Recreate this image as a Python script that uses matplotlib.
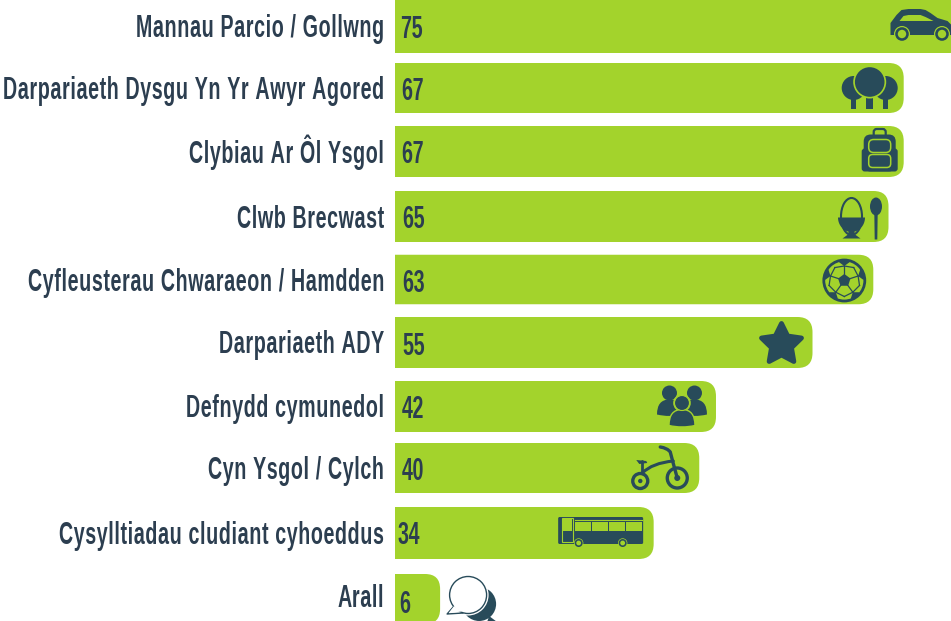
import matplotlib
matplotlib.use("Agg")
import matplotlib.pyplot as plt
import numpy as np
from matplotlib.path import Path
from matplotlib.patches import PathPatch, Circle, Ellipse, Rectangle, FancyBboxPatch, Polygon
from matplotlib.transforms import Affine2D
from matplotlib import font_manager as fm
from fontTools.ttLib import TTFont

categories = ["Mannau Parcio / Gollwng", "Darpariaeth Dysgu Yn Yr Awyr Agored", "Clybiau Ar Ôl Ysgol",
              "Clwb Brecwast", "Cyfleusterau Chwaraeon / Hamdden", "Darpariaeth ADY",
              "Defnydd cymunedol", "Cyn Ysgol / Cylch", "Cysylltiadau cludiant cyhoeddus", "Arall"]
values = [75, 67, 67, 65, 63, 55, 42.3, 40.1, 34.1, 6]

# layout (pixels of the 951x621 canvas)
W, H = 951, 621
X0, UNIT = 394.5, 7.6
rows = [26, 88, 151.5, 216.5, 279.5, 342.5, 406.5, 468, 533, 596]
bar_heights = [54, 50, 51, 51, 49.5, 51, 51, 50, 52, 50]
bar_shift = [0, 0, 0, 0, 0, 0, 0, 0, 0, 3]
label_dx = [6, 6.5, 6.5, 7.5, 7.5, 7.5, 7.5, 7.5, 2.5, 4.5]
label_dy = [1.5, 0.7, 0.5, 0.5, 1, 1.2, 0, 0.5, 0.5, 6]
BASE = 11  # baseline sits this far below the row centre
RADIUS = 15
GREEN, DARK, TXT = "#A3D32C", "#284B5A", "#2C3E50"


def make_condensed(scale=0.63, track=40):
    path = fm.findfont(fm.FontProperties(family="Liberation Sans", weight="bold"))
    f = TTFont(path)
    glyf, hmtx = f["glyf"], f["hmtx"]
    order = f.getGlyphOrder()
    for name in order:
        g = glyf[name]
        if g.isComposite():
            for c in g.components:
                c.x = int(c.x * scale)
        elif g.numberOfContours > 0:
            g.coordinates.scale((scale, 1))
        if hasattr(g, "program"):
            g.removeHinting()
    for name in order:
        g = glyf[name]
        if g.numberOfContours != 0:
            g.recalcBounds(glyf)
        adv, _ = hmtx[name]
        hmtx[name] = (int(adv * scale) + track, getattr(g, "xMin", 0) or 0)
    for tag in ("kern", "GPOS", "GSUB", "fpgm", "prep", "cvt ", "hdmx", "VDMX", "LTSH"):
        if tag in f:
            del f[tag]
    for rec in f["name"].names:
        if rec.nameID in (1, 4, 16):
            rec.string = "LabelNarrow"
        elif rec.nameID == 6:
            rec.string = "LabelNarrow-Bold"
    f.save("label_narrow.ttf")
    fm.fontManager.addfont("label_narrow.ttf")
    return "LabelNarrow"


FONT = make_condensed()
FS = 22.5

fig = plt.figure(figsize=(W / 100, H / 100), dpi=100, facecolor="white")
ax = fig.add_axes([X0 / W, 0, 1 - X0 / W, 1])
ax.set_xlim(0, (W - X0) / UNIT)
ax.set_ylim(H, 0)
for s in ax.spines.values():
    s.set_visible(False)
ax.set_xticks([])
ax.set_yticks([r + BASE for r in rows], categories, fontfamily=FONT, fontweight="bold", fontsize=FS, color=TXT)
ax.tick_params(axis="y", length=0, pad=7)
for lab in ax.get_yticklabels():
    lab.set_verticalalignment("baseline")


def bar(v, yc, h):
    rx, ry = RADIUS / UNIT, RADIUS
    t, b = yc - h / 2, yc + h / 2
    verts = [(0, t), (v - rx, t), (v, t), (v, t + ry), (v, b - ry), (v, b), (v - rx, b), (0, b), (0, t)]
    codes = [Path.MOVETO, Path.LINETO, Path.CURVE3, Path.CURVE3, Path.LINETO, Path.CURVE3, Path.CURVE3,
             Path.LINETO, Path.CLOSEPOLY]
    ax.add_patch(PathPatch(Path(verts, codes), fc=GREEN, ec="none"))


for v, yc, h, sh, dx, dy in zip(values, rows, bar_heights, bar_shift, label_dx, label_dy):
    bar(v, yc + sh, h)
    ax.text(dx / UNIT, yc + dy + BASE, f"{v:.0f}", ha="left", va="baseline", fontfamily=FONT, fontweight="bold",
            fontsize=FS, color=TXT)

# icon layer, one unit = one pixel
ic = fig.add_axes([0, 0, 1, 1], facecolor="none")
ic.set_xlim(0, W)
ic.set_ylim(H, 0)
ic.axis("off")


def C(x, y, r, fc=DARK, ec="none", lw=0):
    ic.add_patch(Circle((x, y), r, fc=fc, ec=ec, lw=lw))


def P(pts, fc=DARK, ec="none", lw=0):
    return ic.add_patch(Polygon(pts, closed=True, fc=fc, ec=ec, lw=lw, joinstyle="round"))


def RR(x, y, w, h, r, fc=DARK, ec="none", lw=0):
    ic.add_patch(FancyBboxPatch((x + r, y + r), w - 2 * r, h - 2 * r, boxstyle=f"round,pad={r},rounding_size={r}",
                                fc=fc, ec=ec, lw=lw))


def curve(pts, lw, color=DARK):
    ic.add_patch(PathPatch(Path(pts, [Path.MOVETO] + [Path.CURVE3] * (len(pts) - 1)), fc="none", ec=color, lw=lw,
                           capstyle="round"))


def end(i):
    return X0 + values[i] * UNIT


def car(x, y):
    outline = [(-30, 9), (-30, -3), (-27, -7), (-24, -11), (-19, -16), (-12, -17), (0, -17), (5, -16), (10, -13),
               (17, -8), (27, -5), (31, -1), (31, 9)]
    P([(x + a, y + b) for a, b in outline])
    P([(x + a, y + b) for a, b in [(-21, -5), (-17, -10), (-12, -11), (0, -11), (5, -9), (13, -5)]], fc=GREEN)
    for wx in (-18.5, 21.5):
        C(x + wx, y + 8, 8, fc=GREEN)
        C(x + wx, y + 8, 6.8)
        C(x + wx, y + 8, 4.2, fc=GREEN)


def trees(x, y):
    for dx, w, top in [(-16, 5, 11), (16, 5, 11), (0, 7, 9)]:
        ic.add_patch(Rectangle((x + dx - w / 2, y + top), w, 21 - top, fc=DARK, ec="none"))
    C(x - 16, y + 0, 12)
    C(x + 16, y + 0, 12)
    C(x, y - 6, 16.5, fc=GREEN)
    C(x, y - 6, 14.8)


def backpack(x, y):
    RR(x - 6, y - 21.5, 12, 9, 3, fc="none", ec=DARK, lw=1.6)
    RR(x - 16, y - 16, 32, 37, 7)
    RR(x - 18, y - 2, 36, 23, 3)
    RR(x - 11, y - 11, 22, 13, 5, fc="none", ec=GREEN, lw=1.1)
    RR(x - 11, y + 4, 22, 13, 4, fc="none", ec=GREEN, lw=1.1)


def egg(x, y):
    ic.add_patch(Ellipse((x, y - 1), 21, 37, fc="none", ec=DARK, lw=1.5))
    t = np.linspace(0, np.pi, 30)
    P(np.c_[x + 13.5 * np.cos(t), y + 14.5 * np.sin(t)])
    P([(x - 2.5, y + 12), (x + 2.5, y + 12), (x + 3.5, y + 17), (x + 9, y + 21), (x - 9, y + 21), (x - 3.5, y + 17)])
    ic.add_patch(Ellipse((x + 24.5, y - 11), 12, 18, fc=DARK, ec="none"))
    P([(x + 22.8, y - 5), (x + 26.2, y - 5), (x + 25.8, y + 22), (x + 23.2, y + 22)])


def ball(x, y):
    clip = Circle((x, y), 20, transform=ic.transData)

    def poly(cx, cy, r, a0):
        ang = np.deg2rad(a0 + np.arange(5) * 72)
        return np.c_[cx + r * np.sin(ang), cy - r * np.cos(ang)]
    C(x, y, 20.5, fc=GREEN, ec=DARK, lw=2)
    P(poly(x, y, 6.5, 0))
    outer = []
    for a in (0, 72, 144, 216, 288):
        r = np.deg2rad(a)
        c = (x + 20 * np.sin(r), y - 20 * np.cos(r))
        outer.append((x + 14.5 * np.sin(r), y - 14.5 * np.cos(r)))
        P(poly(c[0], c[1], 5.5, a + 36)).set_clip_path(clip)
        ic.plot([x + 6 * np.sin(r), outer[-1][0]], [y - 6 * np.cos(r), outer[-1][1]], color=DARK, lw=0.9)
    for k in range(5):
        r = np.deg2rad(36 + 72 * k)
        m = (x + 16 * np.sin(r), y - 16 * np.cos(r))
        for q in (outer[k], outer[(k + 1) % 5]):
            ic.plot([m[0], q[0]], [m[1], q[1]], color=DARK, lw=0.9)


def star(x, y):
    s = Path.unit_regular_star(5, innerCircle=0.5)
    tr = Affine2D().scale(21, -21).translate(x, y) + ic.transData
    ic.add_patch(PathPatch(s, transform=tr, fc=DARK, ec=DARK, lw=3.5, joinstyle="round"))


def person(x, top, bottom, w, r, halo=False):
    if halo:
        C(x, top - r + 1, r + 1.3, fc=GREEN)
    verts = [(x - w, bottom - 2), (x - w, top), (x, top), (x + w, top), (x + w, bottom - 2), (x, bottom + 1),
             (x - w, bottom - 2), (x - w, bottom - 2)]
    codes = [Path.MOVETO, Path.CURVE3, Path.CURVE3, Path.CURVE3, Path.CURVE3, Path.CURVE3, Path.CURVE3,
             Path.CLOSEPOLY]
    ic.add_patch(PathPatch(Path(verts, codes), fc=DARK, ec=GREEN if halo else "none", lw=1 if halo else 0))
    C(x, top - r + 1, r, ec=GREEN if halo else "none", lw=0.8 if halo else 0)


def people(x, y):
    person(x - 12.5, y - 8, y + 9, 12.5, 7.5)
    person(x + 12.5, y - 8, y + 9, 12.5, 7.5)
    person(x, y + 2, y + 20, 13, 7.5, halo=True)


def trike(x, y):
    C(x - 20, y + 12, 7.5, fc="none", ec=DARK, lw=2.4)
    C(x - 20, y + 12, 2.2)
    C(x + 17, y + 9, 10, fc="none", ec=DARK, lw=2.4)
    C(x + 17, y + 9, 3)
    ic.plot([x - 18, x - 18], [y - 8, y + 3], color=DARK, lw=2, solid_capstyle="round")
    curve([(x - 18, y + 4), (x - 8, y - 6), (x + 13, y - 8)], 2.2)
    curve([(x + 17, y + 9), (x + 12, y - 9), (x + 10, y - 17), (x + 7, y - 21), (x, y - 22)], 2.4)
    P([(x - 24, y - 9), (x - 14, y - 8), (x - 13, y - 6), (x - 21, y - 5)])


def bus(x, y):
    RR(x - 42.5, y - 15, 85, 27, 1.5)
    for a, b in [(-26, -10), (-9, 7), (8, 24), (25.5, 41)]:
        ic.add_patch(Rectangle((x + a, y - 10), b - a, 9, fc=GREEN, ec="none"))
    ic.plot([x - 26, x + 41], [y - 12.5, y - 12.5], color=GREEN, lw=0.8)
    ic.add_patch(Rectangle((x - 38.5, y - 14), 10.5, 24, fc=DARK, ec=GREEN, lw=0.8))
    ic.add_patch(Rectangle((x - 37.5, y - 13), 8.5, 12, fc=GREEN, ec="none"))
    for wx in (-22, 22):
        C(x + wx, y + 11, 4.7, fc=GREEN)
        C(x + wx, y + 11, 4)
        C(x + wx, y + 11, 2.4, fc=GREEN)


def bubbles(x, y):
    C(x + 8, y + 8, 17)
    P([(x + 18, y + 20), (x + 26, y + 26), (x + 16, y + 26)])
    C(x - 3, y - 1, 20.5, fc="white")
    P([(x - 24, y + 18), (x - 17, y + 10), (x - 8, y + 17)], fc="white", ec=DARK, lw=1)
    C(x - 3, y - 1, 18.5, fc="white", ec=DARK, lw=1)
    P([(x - 22.5, y + 17), (x - 17, y + 10), (x - 9, y + 15.5)], fc="white")


car(end(0) - 44, rows[0])
trees(end(1) - 34, rows[1])
backpack(end(2) - 24, rows[2] - 1)
egg(end(3) - 37, rows[3] + 1)
ball(end(4) - 29, rows[4] + 1)
star(end(5) - 31, rows[5] + 2)
people(end(6) - 34, rows[6] + 1)
trike(end(7) - 39, rows[7] + 1)
bus(end(8) - 53, rows[8] - 1)
bubbles(end(9) + 31, rows[9] + 0)

fig.savefig("out.png", dpi=100, facecolor="white")
